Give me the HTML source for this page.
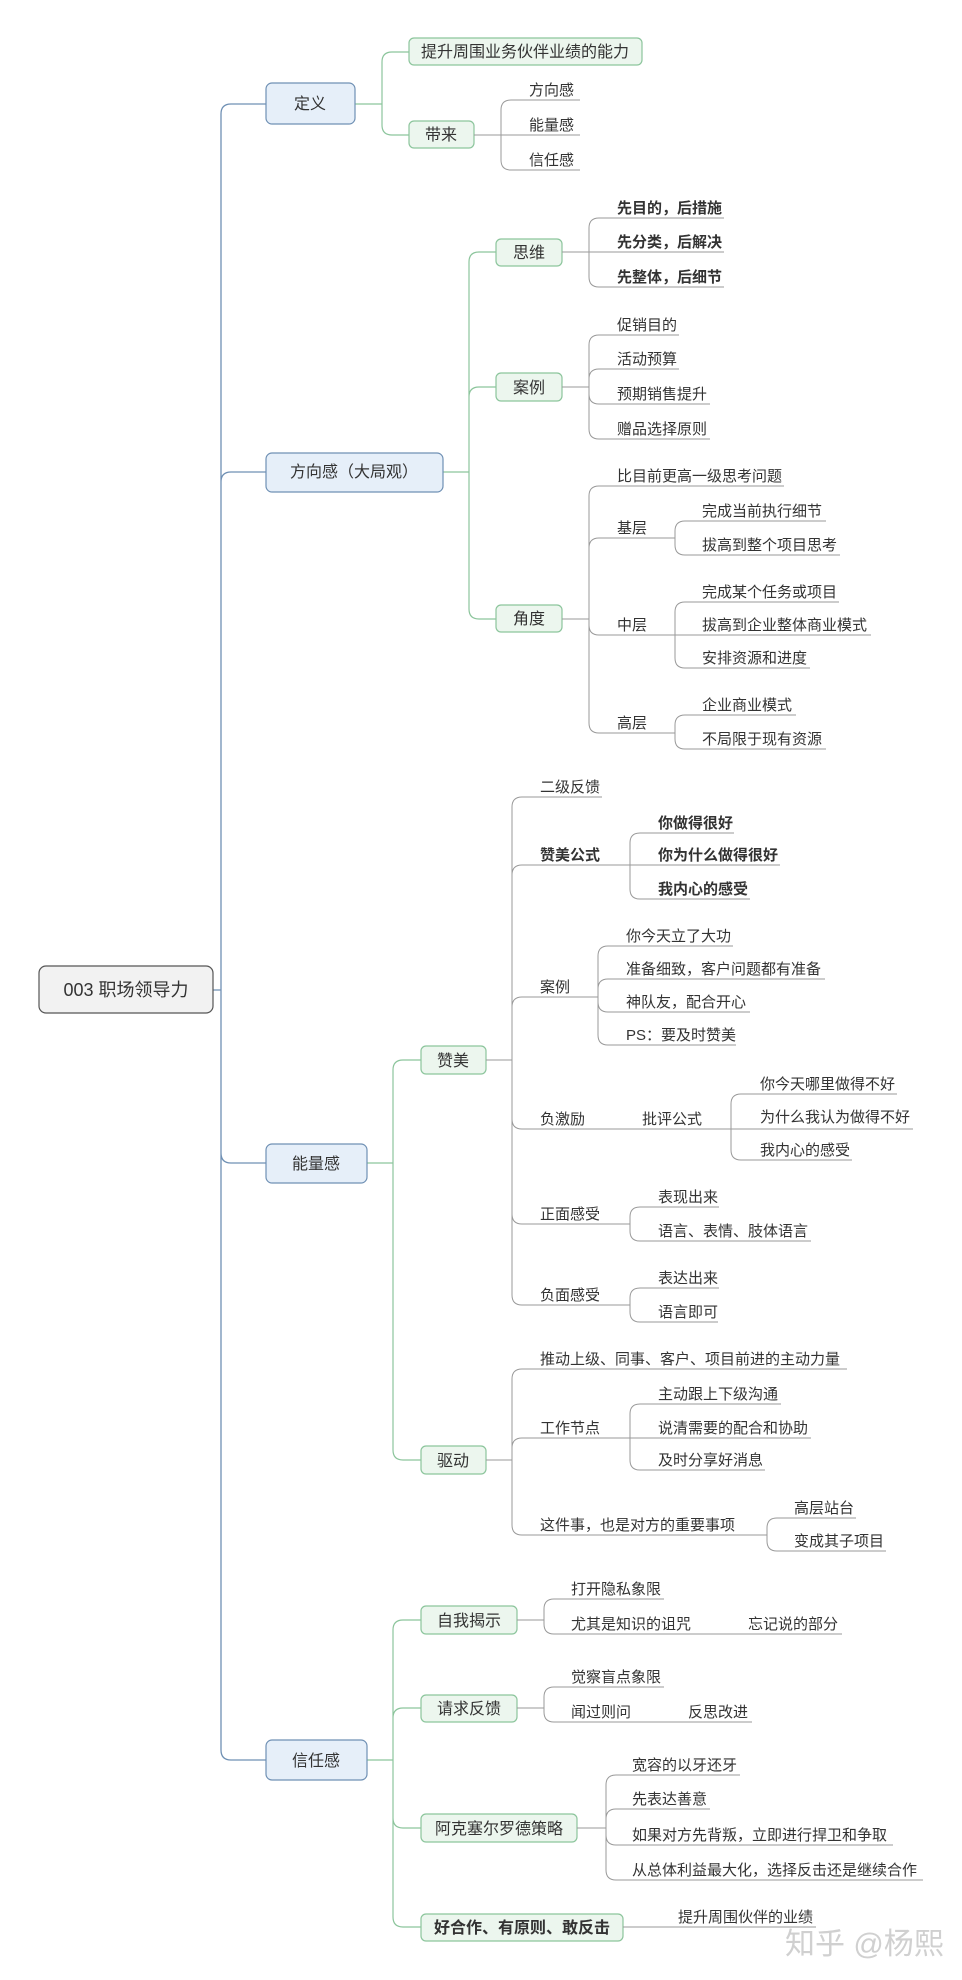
<!DOCTYPE html>
<html><head><meta charset="utf-8"><style>
html,body{margin:0;padding:0;background:#fff;}
svg{display:block;}
text{font-family:"Liberation Sans","Noto Sans CJK SC",sans-serif;fill:#333;}
.l{font-size:15px;}
.b{font-size:16px;text-anchor:middle;}
.bd{font-weight:bold;}
.bl{fill:none;stroke:#6f90b4;stroke-width:1.3;}
.gr{fill:none;stroke:#8cc59c;stroke-width:1.2;}
.gy{fill:none;stroke:#9a9a9a;stroke-width:1;}
.bb{fill:#e6eff9;stroke:#6f90b4;stroke-width:1.2;}
.gb{fill:#ecf6ee;stroke:#8cc59c;stroke-width:1.2;}
</style></head><body>
<svg width="962" height="1980" viewBox="0 0 962 1980" xmlns="http://www.w3.org/2000/svg">
<!-- root connectors -->
<path class="bl" d="M213 990 H221 M221 990 V114 Q221 104 231 104 H266 M221 990 V482 Q221 472 231 472 H266 M221 990 V1153 Q221 1163 231 1163 H266 M221 990 V1750 Q221 1760 231 1760 H266"/>
<rect x="39" y="966" width="174" height="47" rx="7" fill="#f2f2f2" stroke="#555" stroke-width="1.2"/>
<text x="126" y="996" style="font-size:18px;text-anchor:middle">003 职场领导力</text>

<!-- 定义 -->
<path class="gr" d="M355 104 H382 M382 104 V62 Q382 52 392 52 H409 M382 104 V125 Q382 135 392 135 H409"/>
<rect class="bb" x="266" y="83" width="89" height="41" rx="6"/>
<text class="b" x="310" y="109">定义</text>
<rect class="gb" x="409" y="38" width="233" height="27" rx="5"/>
<text class="b" x="525" y="57">提升周围业务伙伴业绩的能力</text>
<rect class="gb" x="409" y="121" width="65" height="27" rx="5"/>
<text class="b" x="441" y="140">带来</text>
<path class="gy" d="M474 135 H580 M501 135 V110 Q501 100 511 100 H580 M501 135 V160 Q501 170 511 170 H580"/>
<text class="l" x="529" y="95">方向感</text>
<text class="l" x="529" y="130">能量感</text>
<text class="l" x="529" y="165">信任感</text>

<!-- 方向感 -->
<path class="gr" d="M443 472 H469 M469 472 V262 Q469 252 479 252 H496 M469 472 V397 Q469 387 479 387 H496 M469 472 V609 Q469 619 479 619 H496"/>
<rect class="bb" x="266" y="453" width="177" height="39" rx="6"/>
<text class="b" x="354" y="477">方向感（大局观）</text>
<rect class="gb" x="496" y="239" width="66" height="27" rx="5"/>
<text class="b" x="529" y="258">思维</text>
<rect class="gb" x="496" y="373" width="66" height="28" rx="5"/>
<text class="b" x="529" y="393">案例</text>
<rect class="gb" x="496" y="605" width="66" height="27" rx="5"/>
<text class="b" x="529" y="624">角度</text>

<path class="gy" d="M562 252 H724 M589 252 V228 Q589 218 599 218 H724 M589 252 V277 Q589 287 599 287 H724"/>
<text class="l bd" x="617" y="213">先目的，后措施</text>
<text class="l bd" x="617" y="247">先分类，后解决</text>
<text class="l bd" x="617" y="282">先整体，后细节</text>

<path class="gy" d="M562 387 H589 M589 387 V345 Q589 335 599 335 H679 M589 387 V379 Q589 369 599 369 H679 M589 387 V394 Q589 404 599 404 H710 M589 387 V429 Q589 439 599 439 H710"/>
<text class="l" x="617" y="330">促销目的</text>
<text class="l" x="617" y="364">活动预算</text>
<text class="l" x="617" y="399">预期销售提升</text>
<text class="l" x="617" y="434">赠品选择原则</text>

<path class="gy" d="M562 619 H589 M589 619 V496 Q589 486 599 486 H784 M589 619 V548 Q589 538 599 538 H675 M589 619 V625 Q589 635 599 635 H675 M589 619 V723 Q589 733 599 733 H675"/>
<text class="l" x="617" y="481">比目前更高一级思考问题</text>
<text class="l" x="617" y="533">基层</text>
<text class="l" x="617" y="630">中层</text>
<text class="l" x="617" y="728">高层</text>
<path class="gy" d="M675 538 V531 Q675 521 685 521 H826 M675 538 V545 Q675 555 685 555 H840"/>
<text class="l" x="702" y="516">完成当前执行细节</text>
<text class="l" x="702" y="550">拔高到整个项目思考</text>
<path class="gy" d="M675 635 V612 Q675 602 685 602 H839 M675 635 H871 M675 635 V658 Q675 668 685 668 H810"/>
<text class="l" x="702" y="597">完成某个任务或项目</text>
<text class="l" x="702" y="630">拔高到企业整体商业模式</text>
<text class="l" x="702" y="663">安排资源和进度</text>
<path class="gy" d="M675 733 V725 Q675 715 685 715 H796 M675 733 V739 Q675 749 685 749 H826"/>
<text class="l" x="702" y="710">企业商业模式</text>
<text class="l" x="702" y="744">不局限于现有资源</text>

<!-- 能量感 -->
<path class="gr" d="M367 1163 H393 M393 1163 V1070 Q393 1060 403 1060 H421 M393 1163 V1450 Q393 1460 403 1460 H421"/>
<rect class="bb" x="266" y="1144" width="101" height="39" rx="6"/>
<text class="b" x="316" y="1169">能量感</text>
<rect class="gb" x="421" y="1046" width="65" height="28" rx="5"/>
<text class="b" x="453" y="1066">赞美</text>
<rect class="gb" x="421" y="1446" width="65" height="28" rx="5"/>
<text class="b" x="453" y="1466">驱动</text>

<path class="gy" d="M486 1060 H512 M512 1060 V807 Q512 797 522 797 H602 M512 1060 V875 Q512 865 522 865 H630 M512 1060 V1007 Q512 997 522 997 H598 M512 1060 V1119 Q512 1129 522 1129 H731 M512 1060 V1214 Q512 1224 522 1224 H630 M512 1060 V1295 Q512 1305 522 1305 H630"/>
<text class="l" x="540" y="792">二级反馈</text>
<text class="l bd" x="540" y="860">赞美公式</text>
<text class="l" x="540" y="992">案例</text>
<text class="l" x="540" y="1124">负激励</text>
<text class="l" x="642" y="1124">批评公式</text>
<text class="l" x="540" y="1219">正面感受</text>
<text class="l" x="540" y="1300">负面感受</text>

<path class="gy" d="M630 865 V843 Q630 833 640 833 H734 M630 865 H780 M630 865 V889 Q630 899 640 899 H750"/>
<text class="l bd" x="658" y="828">你做得很好</text>
<text class="l bd" x="658" y="860">你为什么做得很好</text>
<text class="l bd" x="658" y="894">我内心的感受</text>

<path class="gy" d="M598 997 V956 Q598 946 608 946 H733 M598 997 V989 Q598 979 608 979 H825 M598 997 V1002 Q598 1012 608 1012 H750 M598 997 V1035 Q598 1045 608 1045 H736"/>
<text class="l" x="626" y="941">你今天立了大功</text>
<text class="l" x="626" y="974">准备细致，客户问题都有准备</text>
<text class="l" x="626" y="1007">神队友，配合开心</text>
<text class="l" x="626" y="1040">PS：要及时赞美</text>

<path class="gy" d="M731 1129 V1104 Q731 1094 741 1094 H897 M731 1129 H913 M731 1129 V1150 Q731 1160 741 1160 H852"/>
<text class="l" x="760" y="1089">你今天哪里做得不好</text>
<text class="l" x="760" y="1122">为什么我认为做得不好</text>
<text class="l" x="760" y="1155">我内心的感受</text>

<path class="gy" d="M630 1224 V1217 Q630 1207 640 1207 H719 M630 1224 V1231 Q630 1241 640 1241 H811"/>
<text class="l" x="658" y="1202">表现出来</text>
<text class="l" x="658" y="1236">语言、表情、肢体语言</text>
<path class="gy" d="M630 1305 V1298 Q630 1288 640 1288 H719 M630 1305 V1312 Q630 1322 640 1322 H718"/>
<text class="l" x="658" y="1283">表达出来</text>
<text class="l" x="658" y="1317">语言即可</text>

<path class="gy" d="M486 1460 H512 M512 1460 V1379 Q512 1369 522 1369 H847 M512 1460 V1448 Q512 1438 522 1438 H630 M512 1460 V1525 Q512 1535 522 1535 H767"/>
<text class="l" x="540" y="1364">推动上级、同事、客户、项目前进的主动力量</text>
<text class="l" x="540" y="1433">工作节点</text>
<text class="l" x="540" y="1530">这件事，也是对方的重要事项</text>
<path class="gy" d="M630 1438 V1414 Q630 1404 640 1404 H781 M630 1438 H811 M630 1438 V1460 Q630 1470 640 1470 H765"/>
<text class="l" x="658" y="1399">主动跟上下级沟通</text>
<text class="l" x="658" y="1433">说清需要的配合和协助</text>
<text class="l" x="658" y="1465">及时分享好消息</text>
<path class="gy" d="M767 1535 V1528 Q767 1518 777 1518 H856 M767 1535 V1541 Q767 1551 777 1551 H886"/>
<text class="l" x="794" y="1513">高层站台</text>
<text class="l" x="794" y="1546">变成其子项目</text>

<!-- 信任感 -->
<path class="gr" d="M367 1760 H393 M393 1760 V1630 Q393 1620 403 1620 H421 M393 1760 V1718 Q393 1708 403 1708 H421 M393 1760 V1818 Q393 1828 403 1828 H421 M393 1760 V1917 Q393 1927 403 1927 H421"/>
<rect class="bb" x="266" y="1740" width="101" height="40" rx="6"/>
<text class="b" x="316" y="1766">信任感</text>
<rect class="gb" x="421" y="1606" width="96" height="28" rx="5"/>
<text class="b" x="469" y="1626">自我揭示</text>
<rect class="gb" x="421" y="1695" width="96" height="27" rx="5"/>
<text class="b" x="469" y="1714">请求反馈</text>
<rect class="gb" x="421" y="1814" width="156" height="28" rx="5"/>
<text class="b" x="499" y="1834">阿克塞尔罗德策略</text>
<rect class="gb" x="421" y="1914" width="202" height="27" rx="5"/>
<text class="b bd" x="522" y="1933">好合作、有原则、敢反击</text>

<path class="gy" d="M517 1620 H544 M544 1620 V1609 Q544 1599 554 1599 H664 M544 1620 V1624 Q544 1634 554 1634 H842"/>
<text class="l" x="571" y="1594">打开隐私象限</text>
<text class="l" x="571" y="1629">尤其是知识的诅咒</text>
<text class="l" x="748" y="1629">忘记说的部分</text>
<path class="gy" d="M517 1708 H544 M544 1708 V1697 Q544 1687 554 1687 H664 M544 1708 V1712 Q544 1722 554 1722 H752"/>
<text class="l" x="571" y="1682">觉察盲点象限</text>
<text class="l" x="571" y="1717">闻过则问</text>
<text class="l" x="688" y="1717">反思改进</text>
<path class="gy" d="M577 1828 H606 M606 1828 V1785 Q606 1775 616 1775 H740 M606 1828 V1819 Q606 1809 616 1809 H710 M606 1828 V1835 Q606 1845 616 1845 H893 M606 1828 V1870 Q606 1880 616 1880 H923"/>
<text class="l" x="632" y="1770">宽容的以牙还牙</text>
<text class="l" x="632" y="1804">先表达善意</text>
<text class="l" x="632" y="1840">如果对方先背叛，立即进行捍卫和争取</text>
<text class="l" x="632" y="1875">从总体利益最大化，选择反击还是继续合作</text>
<path class="gy" d="M623 1927 H816"/>
<text class="l" x="678" y="1922">提升周围伙伴的业绩</text>

<text x="785" y="1954" style="font-size:30px;fill:#d0d0d0">知乎 @杨熙</text>
</svg>
</body></html>
